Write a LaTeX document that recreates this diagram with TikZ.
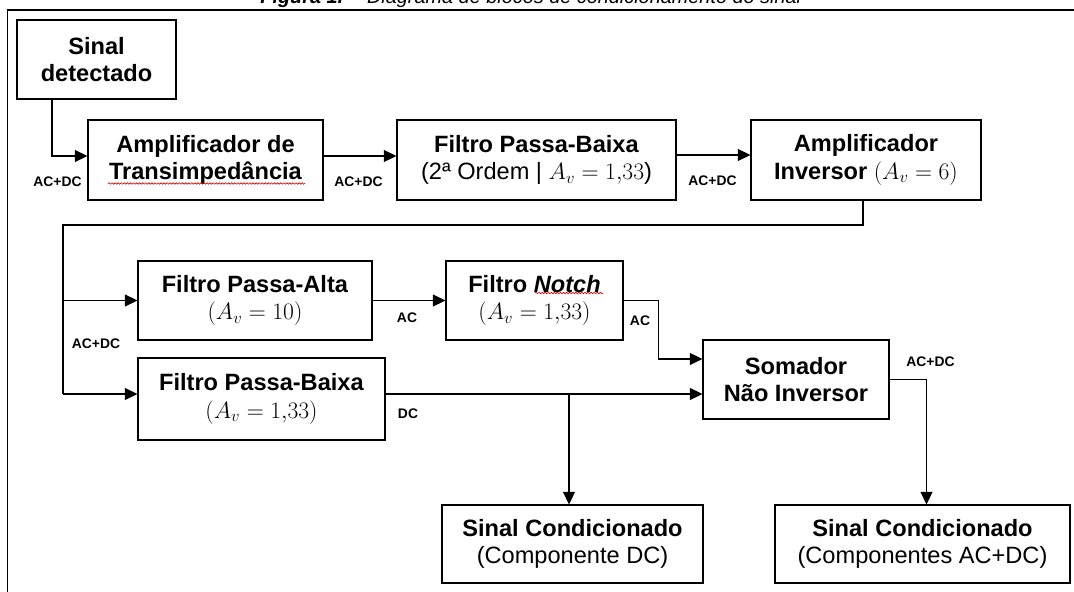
\documentclass[tikz,border=0pt]{standalone}
\usepackage{fix-cm}
\usepackage[no-math]{fontspec}
\setmainfont{Liberation Sans}
\usetikzlibrary{arrows.meta,calc,decorations.pathmorphing}

\newcommand\blkfont{\fontsize{17.7pt}{20.6pt}\selectfont}
\newcommand\lblfont{\fontsize{10.4pt}{12pt}\selectfont\bfseries}
\newcommand\capfont{\fontsize{14.9pt}{17pt}\selectfont}
% block: name, x1, y1, x2, y2 (pixel grid), contents
\newcommand\blk[6]{\node[blk, minimum width={(#4-#2)*0.75pt}, minimum height={(#5-#3)*0.75pt}] (#1) at ({(#2+#4)/2},{(#3+#5)/2}) {#6};}

\begin{document}
\begin{tikzpicture}[x=0.75pt, y=-0.75pt,
  blk/.style={draw, line width=0.8pt, align=center, inner sep=0pt, font=\blkfont},
  lbl/.style={font=\lblfont, inner sep=0pt},
  arr/.style={line width=0.8pt, -{Triangle[length=9.5pt,width=9pt]}},
  wire/.style={line width=0.8pt},
  squiggle/.style={red!85!black, line width=0.5pt, decorate,
    decoration={snake, amplitude=0.55pt, segment length=2.3pt}}]
\useasboundingbox (0,0) rectangle (1074,592);
\clip (0,0) rectangle (1074,592);

% caption and page frame
\node[anchor=base, font=\capfont, inner sep=0pt] (cap) at (531,3.5)
  {\textbf{\textit{Figura 1.}} \textit{– Diagrama de blocos de condicionamento do sinal}};
\draw[line width=1.4pt] (7.5,700) -- (7.5,10) -- (1200,10);

% blocks
\blk{sd}{17}{20}{176}{99}{\textbf{Sinal}\\\textbf{detectado}}
\blk{tz}{88}{120}{323}{200}{\textbf{Amplificador de}\\\textbf{Transimpedância}}
\blk{pb1}{397}{120}{676}{200}{\textbf{Filtro Passa-Baixa}\\(2ª Ordem | $A_v = 1{,}33$)}
\blk{inv}{751}{120}{981}{200}{\textbf{Amplificador}\\\textbf{Inversor} $(A_v = 6)$}
\blk{pa}{138}{261}{372}{340}{\textbf{Filtro Passa-Alta}\\$(A_v = 10)$}
\blk{nt}{446}{261}{623}{340}{\textbf{Filtro \textit{Notch}}\\$(A_v = 1{,}33)$}
\blk{som}{703}{340}{889}{419}{\textbf{Somador}\\\textbf{Não Inversor}}
\blk{lpb}{138}{358}{385}{440}{\textbf{Filtro Passa-Baixa}\\$(A_v = 1{,}33)$}
\blk{odc}{442}{505}{703}{583}{\textbf{Sinal Condicionado}\\(Componente DC)}
\blk{oac}{775}{505}{1070}{583}{\textbf{Sinal Condicionado}\\(Componentes AC+DC)}

% spell-check marks
\draw[squiggle] (108,183.5) -- (305,183.5);
\draw[squiggle] (535,293) -- (603,293);

% connectors
\draw[arr] ([xshift=-33.4pt]sd.south) |- ([yshift=3pt]tz.west);
\draw[arr] ([yshift=3pt]tz.east) -- ([yshift=3pt]pb1.west);
\draw[arr] ([yshift=3.75pt]pb1.east) -- ([yshift=3.75pt]inv.west);
\coordinate (busT) at (63,225);
\coordinate (busB) at (63,394);
\draw[wire] ([xshift=-2.25pt]inv.south) |- (busT) -- (busB);
\draw[arr] (busT |- pa.west) -- (pa.west);
\draw[arr] (busB) -- (busB -| lpb.west);
\draw[arr] (pa.east) -- (nt.west);
\draw[arr] (nt.east) -- ++(35,0) |- ([yshift=15.4pt]som.west);
\draw[arr] (busB -| lpb.east) -- (busB -| som.west);
\coordinate (dcj) at (569,394);
\draw[arr] (dcj) -- (dcj |- odc.north);
\draw[arr] (som.east) -| ([xshift=3pt]oac.north);

% signal labels
\node[lbl] (l1) at (57.5,182) {AC+DC};
\node[lbl] (l2) at (358.5,182) {AC+DC};
\node[lbl] (l3) at (712.5,181) {AC+DC};
\node[lbl] (l4) at (96,344) {AC+DC};
\node[lbl] (l5) at (407,318) {AC};
\node[lbl] (l6) at (640,321) {AC};
\node[lbl] (l7) at (408,414) {DC};
\node[lbl] (l8) at (930.5,362) {AC+DC};
\end{tikzpicture}
\end{document}
